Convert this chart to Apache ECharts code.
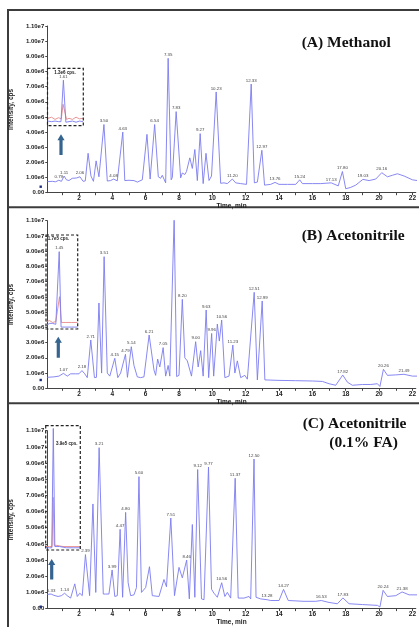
<!DOCTYPE html>
<html><head><meta charset="utf-8">
<script src="https://cdn.jsdelivr.net/npm/echarts@6/dist/echarts.min.js"></script>
<style>html,body{margin:0;padding:0;background:#fff}#c{width:419px;height:627px}</style>
</head><body><div id="c"></div>
<script>
// ---- Panel A: Methanol ----
const timesA = [0.1,0.4,0.6,0.79,0.95,1.11,1.25,1.4,1.6,1.85,2.06,2.25,2.38,2.55,2.72,2.87,3.03,3.2,3.5,3.7,3.9,4.08,4.3,4.4,4.63,4.75,5.0,5.3,5.5,5.8,6.08,6.27,6.54,6.76,6.9,7.0,7.2,7.35,7.53,7.6,7.83,8.1,8.2,8.35,8.45,8.65,8.8,8.95,9.1,9.27,9.45,9.62,9.8,9.95,10.23,10.5,10.7,10.9,11.2,11.4,11.7,12.05,12.1,12.33,12.52,12.7,12.97,13.13,13.5,13.76,14.0,14.5,15.0,15.24,15.4,16.0,16.5,17.13,17.55,17.8,18.0,18.3,18.6,19.03,19.4,19.8,20.16,20.5,20.8,21.1,21.5,22.0,22.3];
const valuesA = [0.73,0.75,0.72,0.82,0.75,1.1,0.85,0.8,0.95,0.97,1.05,0.75,0.78,2.6,1.1,0.75,2.1,1.05,4.5,0.77,0.8,0.9,0.78,0.75,4.0,0.8,0.82,0.8,0.7,0.85,3.85,0.9,4.5,1.05,0.95,1.15,0.65,8.87,0.85,1.0,5.35,0.98,1.3,1.2,1.4,2.3,1.6,2.85,0.8,3.9,0.6,2.6,0.8,1.1,6.65,0.62,0.65,0.6,0.9,0.65,0.6,0.55,0.45,7.17,0.65,0.7,2.8,0.5,0.55,0.68,0.55,0.55,0.55,0.85,0.6,0.6,0.6,0.65,0.45,1.4,0.26,0.35,0.5,0.88,0.8,0.9,1.32,1.05,1.15,1.25,1.1,0.85,0.8];
const peakLabelsA = ["0.79","1.11","2.06","3.50","4.08","4.63","6.54","7.35","7.83","9.27","10.23","11.20","12.33","12.97","13.76","15.24","17.13","17.80","19.03","20.16"];

// ---- Panel B: Acetonitrile ----
const timesB = [0.1,0.5,0.8,1.07,1.3,1.5,1.8,2.0,2.18,2.35,2.5,2.71,2.93,3.05,3.2,3.36,3.51,3.7,3.85,4.15,4.33,4.5,4.6,4.79,4.91,5.14,5.3,5.5,5.7,5.9,6.21,6.5,6.6,6.72,6.85,7.05,7.2,7.35,7.45,7.71,7.86,8.0,8.2,8.35,8.5,8.75,9.0,9.15,9.3,9.45,9.63,9.78,9.96,10.08,10.3,10.42,10.56,10.75,11.0,11.23,11.35,11.5,11.7,11.95,12.1,12.51,12.7,12.99,13.15,14.0,15.0,16.0,16.6,17.0,17.4,17.82,18.1,18.4,19.0,19.5,19.9,20.05,20.26,20.5,21.0,21.49,22.0,22.3];
const valuesB = [0.72,0.75,0.8,0.98,0.8,0.95,0.95,0.95,1.16,0.95,0.7,3.17,0.7,0.72,5.6,1.0,8.64,1.0,0.8,1.97,0.7,1.0,1.1,2.23,0.72,2.73,1.5,0.75,0.7,0.75,3.5,1.2,0.85,1.92,1.4,2.67,0.8,1.5,0.8,11.2,0.77,0.85,5.84,2.0,1.8,0.8,3.06,1.4,2.47,0.8,5.14,0.7,3.6,0.8,4.22,3.1,4.48,0.7,0.8,2.84,1.0,1.8,0.7,0.85,0.6,6.3,0.55,5.73,0.55,0.52,0.5,0.48,0.45,0.3,0.2,0.87,0.4,0.2,0.25,0.25,0.3,0.12,1.25,0.85,0.88,0.92,0.8,0.8];
const peakLabelsB = ["1.07","2.18","2.71","3.51","4.15","4.79","5.14","6.21","7.05","7.71","8.20","9.00","9.63","9.96","10.56","11.23","12.51","12.99","17.82","20.26","21.49"];

// ---- Panel C: Acetonitrile (0.1% FA) ----
const timesC = [0.1,0.33,0.5,0.75,0.95,1.14,1.3,1.5,1.75,1.9,2.05,2.2,2.39,2.64,2.84,3.01,3.21,3.46,3.6,3.8,3.99,4.15,4.3,4.47,4.62,4.8,4.95,5.1,5.3,5.45,5.6,5.75,6.0,6.23,6.4,6.8,7.1,7.25,7.51,7.73,8.0,8.2,8.46,8.62,8.8,8.95,9.12,9.35,9.5,9.77,9.95,10.1,10.3,10.56,10.75,10.9,11.1,11.37,11.55,11.9,12.2,12.3,12.5,12.62,12.9,13.28,13.5,14.0,14.27,14.55,15.5,16.2,16.53,17.0,17.5,17.83,18.2,19.0,19.9,20.05,20.24,20.5,21.0,21.38,21.8,22.3];
const valuesC = [0.88,0.9,0.82,0.75,0.8,0.95,0.8,0.65,1.53,0.75,0.95,0.8,3.34,0.8,6.47,1.0,9.95,0.9,0.9,0.9,2.39,0.75,0.8,4.9,0.7,5.95,1.6,0.8,0.85,1.3,8.16,1.0,1.3,2.59,0.8,0.75,1.8,1.35,5.6,0.8,2.55,1.9,3.0,0.6,5.2,0.7,8.6,0.6,0.55,8.75,1.2,0.95,0.7,1.6,0.75,1.0,0.65,8.06,0.65,0.65,0.75,0.6,9.25,0.7,0.6,0.55,0.5,0.5,1.19,0.5,0.45,0.45,0.5,0.38,0.3,0.66,0.3,0.25,0.2,0.1,1.13,0.75,0.8,1.03,0.85,0.85];
const peakLabelsC = ["0.33","1.14","2.39","3.21","3.99","4.47","4.80","5.60","7.51","8.46","9.12","9.77","10.56","11.37","12.50","13.28","14.27","16.53","17.83","20.24","21.38"];

// ---- Insets (relative position 0..1, relative height 0..1) ----
const insetBlueTimeA = [0,0.1,0.2,0.3,0.37,0.44,0.51,0.6,0.7,0.8,0.9,1];
const insetBlueA     = [0.07,0.06,0.07,0.06,0.06,0.8,0.05,0.06,0.07,0.05,0.07,0.06];
const insetRedTimeA  = [0,0.1,0.2,0.3,0.38,0.43,0.47,0.53,0.6,0.7,0.8,0.9,1];
const insetRedA      = [0.12,0.14,0.1,0.13,0.11,0.37,0.38,0.1,0.12,0.1,0.14,0.11,0.12];
const insetBlueTimeB = [0,0.1,0.2,0.3,0.36,0.41,0.47,0.6,0.8,1];
const insetBlueB     = [0.03,0.05,0.05,0.04,0.04,0.83,0.01,0.01,0.01,0.01];
const insetRedTimeB  = [0,0.1,0.2,0.3,0.36,0.42,0.48,0.6,0.8,1];
const insetRedB      = [0.07,0.08,0.06,0.07,0.06,0.34,0.06,0.06,0.06,0.06];
const insetBlueTimeC = [0,0.1,0.17,0.215,0.26,0.3,0.4,0.6,0.8,1];
const insetBlueC     = [0.01,0.01,0.01,0.98,0.02,0.03,0.02,0.01,0.01,0.01];
const insetRedTimeC  = [0,0.1,0.18,0.21,0.24,0.3,0.5,1];
const insetRedC      = [0.02,0.02,0.02,0.42,0.03,0.03,0.02,0.02];
const insetScaleLabels = ["1.3e6 cps.","1.7e5 cps.","3.9e5 cps."];
const insetPeakLabels = ["1.61","1.45",""];

// ---- Axis tick labels & titles ----
const yTickLabels = ["0.00","1.00e6","2.00e6","3.00e6","4.00e6","5.00e6","6.00e6","7.00e6","8.00e6","9.00e6","1.00e7","1.10e7"];
const xTickValues = [2,4,6,8,10,12,14,16,18,20,22];
const xMinorTickValues = [1,2,3,4,5,6,7,8,9,10,11,12,13,14,15,16,17,18,19,20,21,22];
const panelTitles = [["(A) Methanol"],["(B) Acetonitrile"],["(C) Acetonitrile","(0.1% FA)"]];

// ---------------------------------------------------------------
const LINE = '#7b7bf0', RED = '#e58a8a', FRAME = '#3c3c3c', ARROW = '#35648f';
const mainGrids = [
  {left:40.7, top:26,    width:379.5, height:166.7},
  {left:40.7, top:220.7, width:379.5, height:167.6},
  {left:40.7, top:430.7, width:379.5, height:184.3}
];
const insetGrids = [
  {left:48,   top:69,  width:35, height:56},
  {left:46.5, top:236, width:31, height:92},
  {left:46,   top:426, width:34, height:123}
];
const insetBoxes = [[47.5,68.3,35.8,57.4],[46,235,31.7,94],[45.7,425.7,34.6,124.3]];

function mainData(times, values, labels){
  const lt = labels.map(parseFloat);
  return times.map((t,i)=>{
    const k = lt.findIndex(x=>Math.abs(x-t)<1e-9);
    const item = {value:[t, values[i]]};
    if(k>=0){ item.label = {show:true, formatter: labels[k]}; }
    return item;
  });
}
function pairs(ts, vs){ return ts.map((t,i)=>[t, vs[i]]); }

const xAxes = [], yAxes = [], series = [];
const bold = {fontFamily:'Liberation Sans', fontWeight:'bold', color:'#222'};
mainGrids.forEach((g,i)=>{
  xAxes.push({type:'value', gridIndex:i, min:0.1, max:22.2,
    name:'Time, min', nameLocation:'middle', nameGap:10,
    nameTextStyle:Object.assign({fontSize:6.5}, bold),
    axisLine:{lineStyle:{color:'#444', width:1}},
    axisTick:{length:2.5, customValues:xMinorTickValues, lineStyle:{color:'#444'}},
    axisLabel:Object.assign({fontSize:6.5, margin:2.5, customValues:xTickValues}, bold),
    splitLine:{show:false}});
  yAxes.push({type:'value', gridIndex:i, min:0, max:11, interval:1,
    name:'Intensity, cps', nameLocation:'middle', nameRotate:90, nameGap:28,
    nameTextStyle:Object.assign({fontSize:6.5}, bold),
    axisLine:{show:true, lineStyle:{color:'#444', width:1}},
    axisTick:{show:true, length:2, lineStyle:{color:'#444'}},
    axisLabel:Object.assign({fontSize:6, margin:3, formatter:v=>yTickLabels[Math.round(v)]}, bold),
    splitLine:{show:false}});
});
insetGrids.forEach((g,i)=>{
  xAxes.push({type:'value', gridIndex:3+i, min:0, max:1, show:false});
  yAxes.push({type:'value', gridIndex:3+i, min:0, max:1, show:false});
});

const mains = [[timesA,valuesA,peakLabelsA],[timesB,valuesB,peakLabelsB],[timesC,valuesC,peakLabelsC]];
mains.forEach((m,i)=>{
  series.push({type:'line', xAxisIndex:i, yAxisIndex:i, data:mainData(m[0],m[1],m[2]),
    symbol:'circle', symbolSize:0, showSymbol:true, showAllSymbol:true, animation:false,
    lineStyle:{color:LINE, width:0.9}, itemStyle:{color:LINE},
    label:{show:false, position:'top', distance:1.5, fontSize:4.4, color:'#444', fontFamily:'Liberation Sans'},
    z:3});
});
const insets = [[insetBlueTimeA,insetBlueA,insetRedTimeA,insetRedA],[insetBlueTimeB,insetBlueB,insetRedTimeB,insetRedB],[insetBlueTimeC,insetBlueC,insetRedTimeC,insetRedC]];
insets.forEach((s,i)=>{
  series.push({type:'line', xAxisIndex:3+i, yAxisIndex:3+i, data:pairs(s[2],s[3]),
    symbol:'none', animation:false, lineStyle:{color:RED, width:0.9}, z:4});
  const mx = Math.max.apply(null, s[1]);
  const bd = pairs(s[0],s[1]).map((p,j)=>
    (s[1][j]===mx && insetPeakLabels[i]) ? {value:p, label:{show:true, formatter:insetPeakLabels[i]}} : {value:p});
  series.push({type:'line', xAxisIndex:3+i, yAxisIndex:3+i, data:bd,
    symbol:'circle', symbolSize:0, showSymbol:true, showAllSymbol:true, animation:false,
    lineStyle:{color:LINE, width:0.9}, itemStyle:{color:LINE},
    label:{show:false, position:'top', distance:1.5, fontSize:4.2, color:'#444', fontFamily:'Liberation Sans'}, z:5});
});

// ---- graphics: frames, inset boxes, arrows, titles ----
const graphic = [];
graphic.push({type:'polyline', shape:{points:[[8,627],[8,10],[419,10]]}, style:{stroke:FRAME, lineWidth:2, fill:null}});
graphic.push({type:'line', shape:{x1:8,y1:207.3,x2:419,y2:207.3}, style:{stroke:FRAME, lineWidth:2}});
graphic.push({type:'line', shape:{x1:8,y1:403.3,x2:419,y2:403.3}, style:{stroke:FRAME, lineWidth:2}});
insetBoxes.forEach(b=>{
  graphic.push({type:'rect', shape:{x:b[0],y:b[1],width:b[2],height:b[3]}, style:{fill:null, stroke:'#222', lineWidth:1.2, lineDash:[3,2]}, z:6});
});
[186.7,380,606.7].forEach(y=>{
  graphic.push({type:'rect', shape:{x:39.5,y:y-1.2,width:2.4,height:2.4}, style:{fill:'#1c2a80'}, z:8});
});
const scalePos = [[65,72.5],[58.5,238.5],[66.7,444]];
scalePos.forEach((p,i)=>{
  graphic.push({type:'text', x:p[0], y:p[1], style:{text:insetScaleLabels[i], fontSize:4.5, fontWeight:'bold', fontFamily:'Liberation Sans', fill:'#222', align:'center', verticalAlign:'middle'}, z:7});
});
const arrows = [[61,134.3,155],[58.3,336.7,357.7],[51.7,559,579.5]];
arrows.forEach(a=>{
  const cx=a[0], top=a[1], bot=a[2], hb=top+6;
  graphic.push({type:'polygon', shape:{points:[[cx,top],[cx+3.6,hb],[cx+1.6,hb],[cx+1.6,bot],[cx-1.6,bot],[cx-1.6,hb],[cx-3.6,hb]]}, style:{fill:ARROW}, z:6});
});
const titlePos = [[[301.7,43]],[[301.7,235.7]],[[302.7,424.3],[329.3,442.7]]];
panelTitles.forEach((lines,i)=>{
  lines.forEach((txt,j)=>{
    graphic.push({type:'text', x:titlePos[i][j][0], y:titlePos[i][j][1], style:{text:txt, fontSize:15.5, fontWeight:'bold', fontFamily:'Liberation Serif', fill:'#111', align:'left', verticalAlign:'middle'}, z:7});
  });
});

const chart = echarts.init(document.getElementById('c'), null, {renderer:'canvas'});
chart.setOption({animation:false, backgroundColor:'#fff',
  grid:[...mainGrids, ...insetGrids], xAxis:xAxes, yAxis:yAxes, series:series, graphic:graphic});
</script></body></html>
